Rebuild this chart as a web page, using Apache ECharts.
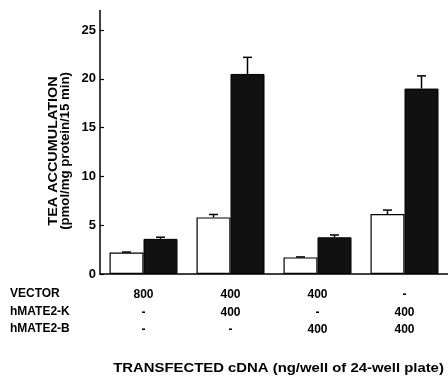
<!DOCTYPE html>
<html>
<head>
<meta charset="utf-8">
<script src="https://cdn.jsdelivr.net/npm/echarts@6/dist/echarts.min.js"></script>
<style>
html,body{margin:0;padding:0;background:#fff;}
#chart{width:448px;height:379px;}
</style>
</head>
<body>
<div id="chart"></div>
<script>
// ---- data ----
var rowHeaders = ['VECTOR', 'hMATE2-K', 'hMATE2-B'];
var vectorRow = ['800', '400', '400', '-'];
var kRow = ['-', '400', '-', '400'];
var bRow = ['-', '-', '400', '400'];
var categories = ['g1', 'g2', 'g3', 'g4'];
var whiteValues = [2.2, 5.8, 1.7, 6.15];
var whiteErrors = [0.05, 0.3, 0.05, 0.4];
var blackValues = [3.6, 20.5, 3.76, 19.0];
var blackErrors = [0.17, 1.7, 0.24, 1.3];
var yTicks = [0, 5, 10, 15, 20, 25];
var yTitle1 = 'TEA ACCUMULATION';
var yTitle2 = '(pmol/mg protein/15 min)';
var xTitle = 'TRANSFECTED cDNA (ng/well of 24-well plate)';

var FONT = '"Liberation Sans", Arial, sans-serif';
var BAR_W = 34;

function errSeries(values, errors, side) {
  return {
    type: 'custom',
    z: 5,
    data: values.map(function (v, i) { return [i, v, v + errors[i]]; }),
    renderItem: function (params, api) {
      var lo = api.coord([api.value(0), api.value(1)]);
      var hi = api.coord([api.value(0), api.value(2)]);
      var x = lo[0] + side * BAR_W / 2;
      var cap = 4.5;
      return {
        type: 'group',
        children: [
          { type: 'line', shape: { x1: x, y1: lo[1], x2: x, y2: hi[1] }, style: { stroke: '#000', lineWidth: 1.5 } },
          { type: 'line', shape: { x1: x - cap, y1: hi[1], x2: x + cap, y2: hi[1] }, style: { stroke: '#000', lineWidth: 1.5 } }
        ]
      };
    }
  };
}

var chart = echarts.init(document.getElementById('chart'), null, { renderer: 'canvas' });
chart.setOption({
  animation: false,
  backgroundColor: '#fff',
  textStyle: { fontFamily: FONT },
  grid: { left: 100, top: 10.5, bottom: 105, right: -6, containLabel: false },
  xAxis: {
    type: 'category',
    data: categories,
    axisLine: { lineStyle: { color: '#000', width: 1.5 } },
    axisTick: { show: false },
    axisLabel: {
      margin: 12,
      interval: 0,
      color: '#000',
      fontFamily: FONT,
      fontSize: 12,
      fontWeight: 'bold',
      lineHeight: 17.5,
      formatter: function (v, i) { return vectorRow[i] + '\n' + kRow[i] + '\n' + bRow[i]; }
    }
  },
  yAxis: {
    type: 'value',
    min: 0,
    max: 27,
    interval: 5,
    splitLine: { show: false },
    axisLine: { show: true, lineStyle: { color: '#000', width: 1.5 } },
    axisTick: { show: true, inside: true, length: 4, customValues: yTicks, lineStyle: { color: '#000', width: 1.2 } },
    axisLabel: { margin: 4, color: '#000', fontFamily: FONT, fontSize: 13, fontWeight: 'bold', customValues: yTicks }
  },
  series: [
    {
      type: 'bar', data: whiteValues, barWidth: BAR_W, barGap: '0%',
      itemStyle: { color: '#fff', borderColor: '#000', borderWidth: 1.2 }
    },
    {
      type: 'bar', data: blackValues, barWidth: BAR_W, barGap: '0%',
      itemStyle: { color: '#111', borderColor: '#000', borderWidth: 1 }
    },
    errSeries(whiteValues, whiteErrors, -1),
    errSeries(blackValues, blackErrors, 1)
  ],
  graphic: [
    { type: 'text', left: 10, top: 288, style: { text: rowHeaders[0], font: 'bold 12px ' + FONT, fill: '#000' } },
    { type: 'text', left: 10, top: 305.5, style: { text: rowHeaders[1], font: 'bold 12px ' + FONT, fill: '#000' } },
    { type: 'text', left: 10, top: 323, style: { text: rowHeaders[2], font: 'bold 12px ' + FONT, fill: '#000' } },
    { type: 'text', x: 278.5, y: 369, scaleX: 1.24, style: { text: xTitle, font: 'bold 12px ' + FONT, fill: '#000', align: 'center', verticalAlign: 'middle' } },
    { type: 'text', x: 54, y: 151, rotation: Math.PI / 2, scaleX: 1.2, style: { text: yTitle1, font: 'bold 12px ' + FONT, fill: '#000', align: 'center', verticalAlign: 'middle' } },
    { type: 'text', x: 65.5, y: 151, rotation: Math.PI / 2, scaleX: 1.1, style: { text: yTitle2, font: 'bold 12px ' + FONT, fill: '#000', align: 'center', verticalAlign: 'middle' } }
  ]
});
</script>
</body>
</html>
